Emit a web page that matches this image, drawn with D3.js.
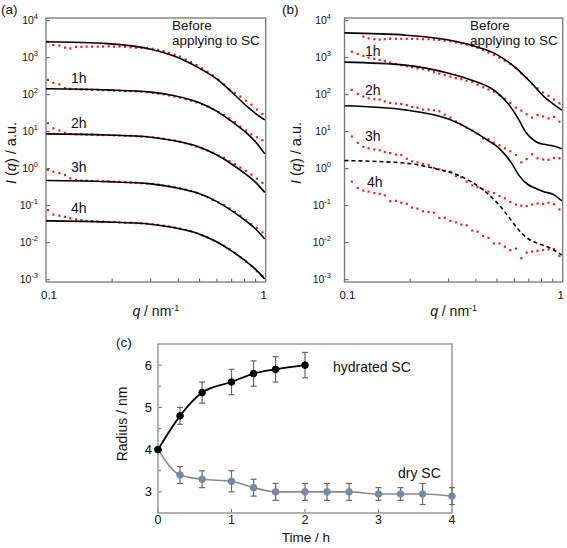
<!DOCTYPE html>
<html><head><meta charset="utf-8">
<script src="https://cdn.jsdelivr.net/npm/d3@7"></script>
<style>body{margin:0;background:#fff}svg{display:block}text{font-family:"Liberation Sans",Arial,sans-serif;fill:#111}</style>
</head><body><svg id="c" width="567" height="548"></svg>
<script>
// ---------- DATA ----------
// shared q grid (nm^-1) of the SAXS points
const qGrid = [0.102,0.108,0.115,0.122,0.129,0.137,0.145,0.153,0.162,0.172,0.182,0.193,0.204,0.216,0.229,0.243,0.257,0.272,0.288,0.306,0.324,0.343,0.363,0.385,0.407,0.432,0.457,0.484,0.513,0.543,0.575,0.610,0.646,0.684,0.724,0.767,0.813,0.861,0.912,0.966];
const seriesNames = ["Before", "1h", "2h", "3h", "4h"];
// panel (a) measured points, log10 I(q)
const aBefore = [3.43,3.34,3.33,3.27,3.25,3.29,3.29,3.30,3.30,3.30, 3.30,3.31,3.30,3.30,3.29,3.28,3.27,3.26,3.26,3.24, 3.21,3.18,3.13,3.08,3.03,2.95,2.88,2.80,2.71,2.62, 2.52,2.41,2.28,2.14,2.05,1.95,1.84,1.73,1.60,1.48];
const a1h = [2.40,2.32,2.28,2.18,2.16,2.15,2.14,2.14,2.13,2.13, 2.12,2.12,2.11,2.11,2.10,2.10,2.09,2.08,2.07,2.05, 2.03,2.01,1.98,1.95,1.92,1.88,1.84,1.79,1.74,1.68, 1.61,1.53,1.45,1.36,1.26,1.14,1.03,0.93,0.85,0.77];
const a2h = [1.23,1.09,1.03,0.97,0.94,0.93,0.93,0.92,0.92,0.91, 0.91,0.91,0.90,0.90,0.89,0.89,0.88,0.87,0.86,0.85, 0.83,0.81,0.78,0.76,0.73,0.69,0.65,0.60,0.55,0.49, 0.43,0.36,0.29,0.21,0.12,0.03,-0.06,-0.16,-0.27,-0.38];
const a3h = [-0.03,-0.08,-0.12,-0.17,-0.26,-0.30,-0.32,-0.32,-0.33,-0.33, -0.34,-0.34,-0.35,-0.35,-0.36,-0.37,-0.38,-0.39,-0.40,-0.41, -0.43,-0.45,-0.47,-0.50,-0.53,-0.56,-0.60,-0.65,-0.71,-0.77, -0.84,-0.91,-0.98,-1.07,-1.17,-1.27,-1.39,-1.50,-1.60,-1.72];
const a4h = [-1.12,-1.24,-1.27,-1.30,-1.34,-1.37,-1.39,-1.41,-1.42,-1.43, -1.43,-1.44,-1.44,-1.45,-1.46,-1.46,-1.47,-1.48,-1.49,-1.50, -1.52,-1.54,-1.56,-1.59,-1.62,-1.65,-1.69,-1.74,-1.80,-1.86, -1.93,-2.00,-2.08,-2.17,-2.28,-2.39,-2.51,-2.63,-2.77,-2.90];
// panel (a) model fits, log10 I(q)
const aFitQ = [0.1,0.19,0.3,0.38,0.49,0.6,0.71,0.82,0.9,0.99];
const aFitBefore = [3.43,3.38,3.23,3.05,2.74,2.42,2.04,1.69,1.49,1.32];
const aFit1h = [2.16,2.13,2.07,1.98,1.80,1.55,1.25,0.96,0.72,0.40];
const aFit2h = [0.94,0.91,0.85,0.76,0.60,0.37,0.10,-0.17,-0.37,-0.64];
const aFit3h = [-0.32,-0.35,-0.41,-0.50,-0.66,-0.89,-1.16,-1.43,-1.63,-1.90];
const aFit4h = [-1.41,-1.44,-1.50,-1.59,-1.75,-1.98,-2.25,-2.52,-2.72,-2.98];
// panel (b) measured points, log10 I(q)
const bBefore = [null,null,null,3.57,3.52,3.50,3.49,3.50,3.51,3.51, 3.51,3.51,3.51,3.51,3.50,3.50,3.49,3.48,3.46,3.44, 3.41,3.38,3.35,3.32,3.27,3.21,3.14,3.07,3.00,2.92, 2.83,2.72,2.58,2.45,2.30,2.17,2.06,1.97,1.87,1.77];
const b1h = [null,3.16,3.10,3.05,3.00,2.97,2.94,2.91,2.87,2.83, 2.80,2.77,2.74,2.71,2.69,2.66,2.61,2.57,2.53,2.49, 2.45,2.42,2.38,2.35,2.27,2.20,2.14,2.08,1.99,1.89, 1.77,1.65,1.57,1.47,1.38,1.45,1.41,1.36,1.40,1.27];
const b2h = [null,2.13,2.02,1.95,1.90,1.88,1.87,1.82,1.78,1.76, 1.75,1.72,1.67,1.65,1.60,1.60,1.58,1.55,1.46,1.38, 1.28,1.19,1.11,1.03,0.94,0.82,0.80,0.70,0.63,0.55, 0.47,0.37,0.17,0.26,0.39,0.28,0.25,0.24,0.29,0.28];
const b3h = [null,0.87,0.70,0.59,0.55,0.52,0.50,0.45,0.42,0.38, 0.37,0.27,0.20,0.17,0.13,0.10,0.02,-0.02,-0.06,-0.08, -0.20,-0.23,-0.35,-0.45,-0.50,-0.56,-0.62,-0.66,-0.74,-0.80, -0.90,-0.97,-1.00,-1.01,-0.97,-0.94,-0.95,-0.92,-0.96,-1.10];
const b4h = [null,-0.35,-0.52,-0.59,-0.62,-0.66,-0.68,-0.72,-0.88,-0.87, -0.92,-0.95,-1.05,-1.08,-1.15,-1.17,-1.19,-1.33,-1.33,-1.41, -1.45,-1.51,-1.53,-1.67,-1.70,-1.82,-1.87,-2.02,-2.02,-2.11, -2.20,-2.16,-2.42,-2.27,-2.24,-2.22,-2.20,-2.18,-2.17,-2.36];
// panel (b) model fits, log10 I(q)
const bFitBeforeQ = [0.1,0.19,0.3,0.38,0.49,0.6,0.71,0.82,0.9,0.99];
const bFitBefore  = [3.67,3.61,3.48,3.34,3.11,2.76,2.35,1.95,1.76,1.58];
const bFit1hQ = [0.1,0.19,0.3,0.38,0.49,0.56,0.63,0.675,0.72,0.77,0.82,0.9,0.99];
const bFit1h  = [2.88,2.80,2.58,2.40,2.10,1.77,1.32,1.00,0.82,0.70,0.66,0.62,0.54];
const bFit2hQ = [0.1,0.19,0.3,0.38,0.45,0.52,0.58,0.63,0.69,0.75,0.82,0.91,0.99];
const bFit2h  = [1.70,1.59,1.34,1.05,0.78,0.51,0.17,-0.18,-0.42,-0.53,-0.62,-0.70,-0.87];
const bFitDashQ = [0.1,0.19,0.27,0.32,0.38,0.45,0.52,0.58,0.63,0.69,0.77,0.88,0.99];
const bFitDash  = [0.22,0.15,-0.02,-0.14,-0.35,-0.66,-1.03,-1.39,-1.66,-1.88,-2.02,-2.15,-2.33];
// axis ticks (log10 of I) and q tick labels
const yTickExps = [4,3,2,1,0,-1,-2,-3];
const qMinorTicks = [0.2,0.3,0.4,0.5,0.6,0.7,0.8,0.9];
const qTickLabels = [[0.1,"0.1"],[1,"1"]];
// panel (c)
const timeHydrated = [0,0.3,0.6,1.0,1.3,1.6,2.0];
const radiusHydrated = [4.0,4.8,5.35,5.6,5.8,5.9,6.0];
const errHydrated = [0,0.2,0.25,0.3,0.3,0.3,0.3];
const timeDry = [0,0.3,0.6,1.0,1.3,1.6,2.0,2.3,2.6,3.0,3.3,3.6,4.0];
const radiusDry = [4.0,3.4,3.3,3.25,3.1,3.0,3.0,3.0,3.0,2.95,2.95,2.95,2.9];
const errDry = [0,0.2,0.2,0.25,0.2,0.2,0.2,0.2,0.2,0.15,0.15,0.25,0.2];
const cYTicks = [3,4,5,6];
const cYMinor = [3.5,4.5,5.5];
const cXTicks = [0,1,2,3,4];

// ---------- DRAW ----------
const svg = d3.select("#c");
const P = v => Math.pow(10, v);

function logPanel(cfg) {
  const x = d3.scaleLog().domain([0.1, 1]).range([cfg.left, cfg.right]);
  const y = d3.scaleLog().domain([1e-3, 1e4]).range([279.7, 20.7]);
  const g = svg.append("g");
  const top = 18, bot = 282;
  yTickExps.forEach(e => {
    const yy = y(P(e));
    g.append("line").attr("x1", cfg.left).attr("x2", cfg.left + 4).attr("y1", yy).attr("y2", yy)
      .attr("stroke", "#555").attr("stroke-width", 1);
    const t = g.append("text").attr("x", cfg.labelRight).attr("y", yy + 3.5).attr("text-anchor", "end");
    t.append("tspan").attr("font-size", 10.5).text("10");
    t.append("tspan").attr("font-size", 7.5).attr("dy", -5).text(String(e));
  });
  qMinorTicks.forEach(v => {
    g.append("line").attr("x1", x(v)).attr("x2", x(v)).attr("y1", bot).attr("y2", bot - 3.5)
      .attr("stroke", "#555").attr("stroke-width", 1);
  });
  qTickLabels.forEach(([v, s]) => {
    g.append("text").attr("x", x(v) + (v === 1 ? -2 : 3)).attr("y", 298.5).attr("text-anchor", "middle")
      .attr("font-size", 11.5).text(s);
  });
  g.append("rect").attr("x", cfg.left).attr("y", top).attr("width", cfg.right - cfg.left).attr("height", bot - top)
    .attr("fill", "none").attr("stroke", "#777").attr("stroke-width", 1.3);
  cfg.dots.forEach(arr => {
    g.append("g").selectAll("rect").data(qGrid.map((q, i) => [q, arr[i]]).filter(d => d[1] !== null))
      .join("rect")
      .attr("x", d => x(d[0]) - 1.1).attr("y", d => y(P(d[1])) - 1.1)
      .attr("width", 2.2).attr("height", 2.2).attr("fill", "#ff1e1e");
  });
  const line = d3.line().x(d => x(d[0])).y(d => y(P(d[1]))).curve(d3.curveMonotoneX);
  cfg.fits.forEach(f => {
    g.append("path").attr("d", line(f.q.map((q, i) => [q, f.v[i]])))
      .attr("fill", "none").attr("stroke", "#000").attr("stroke-width", 1.6)
      .attr("stroke-dasharray", f.dash ? "4,3" : null);
  });
  cfg.labels.forEach(l => {
    g.append("text").attr("x", l.x).attr("y", l.y).attr("font-size", l.fs || 14).text(l.t);
  });
  const xt = g.append("text").attr("x", (cfg.left + cfg.right) / 2).attr("y", 316).attr("text-anchor", "middle").attr("font-size", 14);
  xt.append("tspan").attr("font-style", "italic").text("q");
  xt.append("tspan").text(" / nm");
  xt.append("tspan").attr("font-size", 9).attr("dy", -5).text("-1");
  const yt = g.append("text").attr("transform", `translate(${cfg.ytx},153) rotate(-90)`).attr("text-anchor", "middle").attr("font-size", 14.5);
  yt.append("tspan").attr("font-style", "italic").text("I");
  yt.append("tspan").text(" (");
  yt.append("tspan").attr("font-style", "italic").text("q");
  yt.append("tspan").text(") / a.u.");
  g.append("text").attr("x", cfg.tagX).attr("y", 14).attr("font-size", 13.5).text(cfg.tag);
}

logPanel({
  left: 46, right: 265.7, labelRight: 38, ytx: 16, tag: "(a)", tagX: 1,
  dots: [aBefore, a1h, a2h, a3h, a4h],
  fits: [aFitBefore, aFit1h, aFit2h, aFit3h, aFit4h].map(v => ({ q: aFitQ, v })),
  labels: [
    { t: "Before", x: 172, y: 29.5, fs: 13.5 }, { t: "applying to SC", x: 172, y: 45, fs: 13.5 },
    { t: seriesNames[1], x: 71, y: 83 }, { t: seriesNames[2], x: 71, y: 128 },
    { t: seriesNames[3], x: 71, y: 172 }, { t: seriesNames[4], x: 71, y: 213 }
  ]
});
logPanel({
  left: 344.5, right: 562.7, labelRight: 331, ytx: 301, tag: "(b)", tagX: 282,
  dots: [bBefore, b1h, b2h, b3h, b4h],
  fits: [
    { q: bFitBeforeQ, v: bFitBefore }, { q: bFit1hQ, v: bFit1h },
    { q: bFit2hQ, v: bFit2h }, { q: bFitDashQ, v: bFitDash, dash: true }
  ],
  labels: [
    { t: "Before", x: 470, y: 29.5, fs: 13.5 }, { t: "applying to SC", x: 470, y: 45, fs: 13.5 },
    { t: seriesNames[1], x: 365, y: 56 }, { t: seriesNames[2], x: 365, y: 95 },
    { t: seriesNames[3], x: 365, y: 141 }, { t: seriesNames[4], x: 367, y: 187 }
  ]
});

// panel (c)
(function () {
  const x = d3.scaleLinear().domain([0, 4]).range([158, 452]);
  const y = d3.scaleLinear().domain([2.5, 6.5]).range([513, 344]);
  const g = svg.append("g");
  cYTicks.concat(cYMinor).forEach(v => {
    const major = cYTicks.includes(v);
    g.append("line").attr("x1", 158).attr("x2", 158 + (major ? 4 : 3)).attr("y1", y(v)).attr("y2", y(v))
      .attr("stroke", "#777").attr("stroke-width", 1);
  });
  cYTicks.forEach(v => g.append("text").attr("x", 152).attr("y", y(v) + 4.5).attr("text-anchor", "end").attr("font-size", 13).text(v));
  cXTicks.forEach(v => {
    g.append("line").attr("x1", x(v)).attr("x2", x(v)).attr("y1", 513).attr("y2", 509).attr("stroke", "#777");
    g.append("text").attr("x", x(v)).attr("y", 524).attr("text-anchor", "middle").attr("font-size", 12.5).text(v);
  });
  g.append("rect").attr("x", 158).attr("y", 344).attr("width", 294).attr("height", 169)
    .attr("fill", "none").attr("stroke", "#999").attr("stroke-width", 1.5);
  const line = d3.line().x(d => x(d[0])).y(d => y(d[1])).curve(d3.curveMonotoneX);
  function series(ts, rs, es, lineColor, lw, fill, stroke) {
    const data = ts.map((t, i) => [t, rs[i], es[i]]);
    g.append("path").attr("d", line(data)).attr("fill", "none").attr("stroke", lineColor).attr("stroke-width", lw);
    data.filter(d => d[2] > 0).forEach(d => {
      const cx = x(d[0]), y1 = y(d[1] + d[2]), y2 = y(d[1] - d[2]);
      g.append("line").attr("x1", cx).attr("x2", cx).attr("y1", y1).attr("y2", y2).attr("stroke", "#666").attr("stroke-width", 1.2);
      [y1, y2].forEach(yy => g.append("line").attr("x1", cx - 3).attr("x2", cx + 3).attr("y1", yy).attr("y2", yy).attr("stroke", "#666").attr("stroke-width", 1.2));
    });
    g.append("g").selectAll("circle").data(data).join("circle")
      .attr("cx", d => x(d[0])).attr("cy", d => y(d[1])).attr("r", 3.3)
      .attr("fill", fill).attr("stroke", stroke).attr("stroke-width", 1);
  }
  series(timeDry, radiusDry, errDry, "#8a8a8a", 1.6, "#6d8bb6", "#7d8794");
  series(timeHydrated, radiusHydrated, errHydrated, "#000", 1.8, "#000", "#000");
  g.append("text").attr("x", 333).attr("y", 372).attr("font-size", 14).text("hydrated SC");
  g.append("text").attr("x", 398).attr("y", 478).attr("font-size", 14).text("dry SC");
  g.append("text").attr("x", 116).attr("y", 347).attr("font-size", 13.5).text("(c)");
  g.append("text").attr("x", 306).attr("y", 542).attr("text-anchor", "middle").attr("font-size", 13.5).text("Time / h");
  g.append("text").attr("transform", "translate(127,424) rotate(-90)").attr("text-anchor", "middle").attr("font-size", 14).text("Radius / nm");
})();
</script></body></html>
